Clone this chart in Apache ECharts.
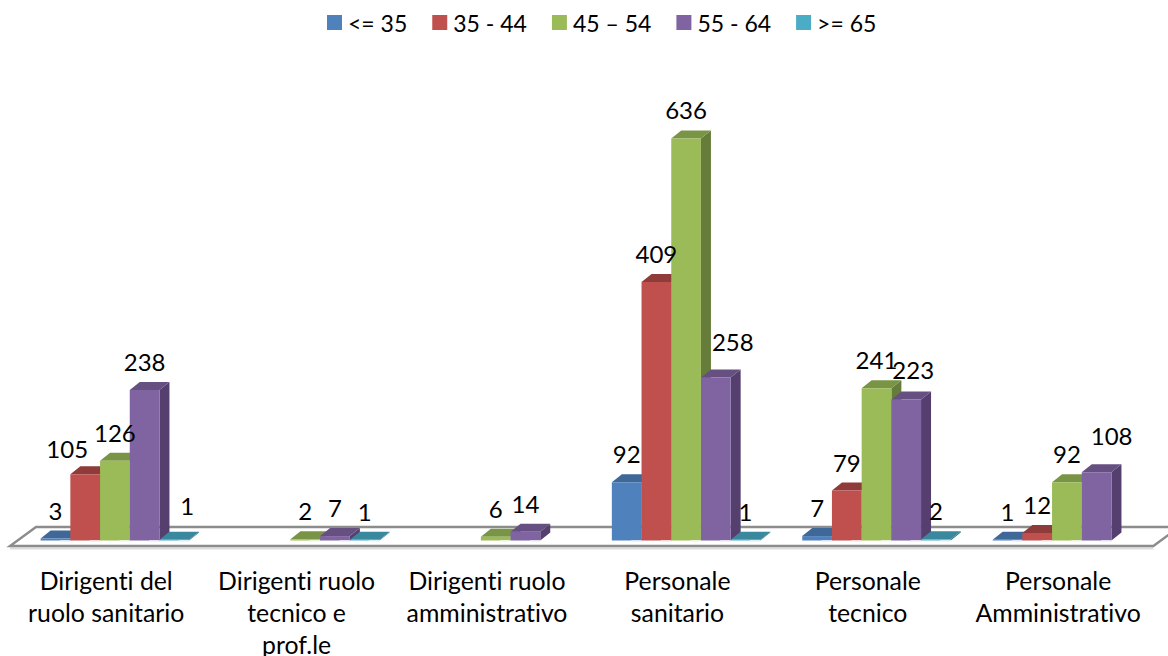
<!DOCTYPE html>
<html>
<head>
<meta charset="utf-8">
<title>Personale per ruolo e fascia di età</title>
<style>
html,body{margin:0;padding:0;background:#fff}
#chart{width:1168px;height:656px}
#chart svg text{font-variant-ligatures:none}
</style>
<script src="https://cdn.jsdelivr.net/npm/echarts@6/dist/echarts.min.js"></script>
</head>
<body>
<div id="chart"></div>
<script>
const categories = [
  'Dirigenti del\nruolo sanitario',
  'Dirigenti ruolo\ntecnico e\nprof.le',
  'Dirigenti ruolo\namministrativo',
  'Personale\nsanitario',
  'Personale\ntecnico',
  'Personale\nAmministrativo'
];
const ageBands = ['<= 35', '35 - 44', '45 – 54', '55 - 64', '>= 65'];
const under35 = [3, null, null, 92, 7, 1];
const from35to44 = [105, null, null, 409, 79, 12];
const from45to54 = [126, 2, 6, 636, 241, 92];
const from55to64 = [238, 7, 14, 258, 223, 108];
const over65 = [1, 1, null, 1, 2, null];
const bandValues = [under35, from35to44, from45to54, from55to64, over65];

// Front, top and side shades of each extruded column, plus the pale glint at its foot.
const faceColors = ['#4F81BD', '#C0504D', '#9BBB59', '#8064A2', '#4BACC6'];
const topColors = ['#3F6797', '#8E3B39', '#7A9446', '#665082', '#3A889D'];
const sideColors = ['#395A82', '#7A3331', '#667C3B', '#543F6E', '#327385'];
const glintColors = ['#DCE6F2', '#F2DCDB', '#EBF1DE', '#E6E0EC', '#DBEEF4'];

const FONT = 'Lato, "Open Sans", sans-serif';
const DEPTH_X = 10;       // horizontal reach of the extrusion
const DEPTH_Y = 8;        // vertical reach of the extrusion
const GROUP_SHIFT = 8.7;  // columns sit further back than the floor's front edge
const COLUMN_SHARE = 0.156; // column width as a share of one category band

// Value labels that are moved aside so they clear neighbouring columns: [dx, dy].
const labelNudge = {
  '0-1': [-18, 3], '0-4': [13, -6], '3-3': [17, -7], '4-3': [7, -2], '5-3': [15, -8]
};

function floorItem(params, api) {
  const origin = api.coord([0, 0]);
  const last = api.coord([5, 0]);
  const half = api.size([1, 0])[0] / 2;
  const leftX = origin[0] - half - 1;
  const rightX = last[0] + half;
  const frontY = origin[1] + 5.5;
  const backY = origin[1] - 13.5;
  const pts = [[leftX, frontY], [rightX, frontY], [rightX + 26, backY], [leftX + 26, backY]];
  return {
    type: 'group',
    children: [
      { type: 'line', shape: { x1: leftX, y1: frontY + 2.5, x2: rightX, y2: frontY + 2.5 },
        style: { stroke: '#DCDCDC', lineWidth: 2 } },
      { type: 'polygon', shape: { points: pts }, style: { fill: '#fff', stroke: '#8C8C8C', lineWidth: 2.4 } }
    ]
  };
}

function columnItem(band) {
  return function (params, api) {
    const cat = api.value(0);
    const value = api.value(1);
    const base = api.coord([cat, 0]);
    const head = api.coord([cat, value]);
    const w = api.size([1, 0])[0] * COLUMN_SHARE;
    const x = base[0] + GROUP_SHIFT + (band - 2.5) * w;
    const yb = base[1];
    const yt = head[1];
    const nudge = labelNudge[cat + '-' + band] || [0, 0];
    return {
      type: 'group',
      children: [
        { type: 'polygon',
          shape: { points: [[x + w, yb], [x + w + DEPTH_X, yb - DEPTH_Y], [x + w + DEPTH_X, yt - DEPTH_Y], [x + w, yt]] },
          style: { fill: sideColors[band] } },
        { type: 'polygon',
          shape: { points: [[x, yt], [x + w, yt], [x + w + DEPTH_X, yt - DEPTH_Y], [x + DEPTH_X, yt - DEPTH_Y]] },
          style: { fill: topColors[band] } },
        { type: 'rect', shape: { x: x, y: yt, width: w, height: yb - yt }, style: { fill: faceColors[band] } },
        { type: 'rect', shape: { x: x + w * 0.65, y: yb - 0.5, width: w * 0.35, height: 1.5 },
          style: { fill: glintColors[band] } },
        { type: 'text', z2: 100,
          style: {
            text: String(value),
            x: x + w / 2 + nudge[0], y: yt - 28.5 + nudge[1],
            align: 'center', verticalAlign: 'middle',
            fontFamily: FONT, fontSize: 24, fill: '#000'
          } }
      ]
    };
  };
}

const columnSeries = ageBands.map((name, band) => ({
  name: name,
  type: 'custom',
  coordinateSystem: 'cartesian2d',
  renderItem: columnItem(band),
  itemStyle: { color: faceColors[band] },
  encode: { x: 0, y: 1 },
  clip: false,
  silent: true,
  data: bandValues[band].map((v, i) => [i, v]).filter(p => p[1] !== null)
}));

// SVG output lets the stylesheet switch off the "ti" ligature in the labels.
const chart = echarts.init(document.getElementById('chart'), null, { renderer: 'svg' });
chart.setOption({
  animation: false,
  backgroundColor: '#fff',
  legend: {
    data: ageBands,
    left: 322,
    top: 6,
    icon: 'rect',
    itemWidth: 15,
    itemHeight: 15,
    itemGap: 25,
    textStyle: { fontFamily: FONT, fontSize: 23, color: '#000', padding: [0, 0, 4, 1] }
  },
  grid: { left: 11, width: 1142.4, top: 98, height: 442.5, containLabel: false, outerBoundsMode: 'none' },
  xAxis: {
    type: 'category',
    data: categories,
    axisLine: { show: false },
    axisTick: { show: false },
    splitLine: { show: false },
    axisLabel: {
      interval: 0, margin: 24, color: '#000', fontFamily: FONT, fontSize: 24.8, lineHeight: 32
    }
  },
  yAxis: { type: 'value', min: 0, max: 700, show: false },
  series: [
    {
      type: 'custom',
      name: 'floor',
      renderItem: floorItem,
      clip: false,
      silent: true,
      encode: { x: 0, y: 1 },
      data: [[0, 0]]
    }
  ].concat(columnSeries)
});
</script>
</body>
</html>
